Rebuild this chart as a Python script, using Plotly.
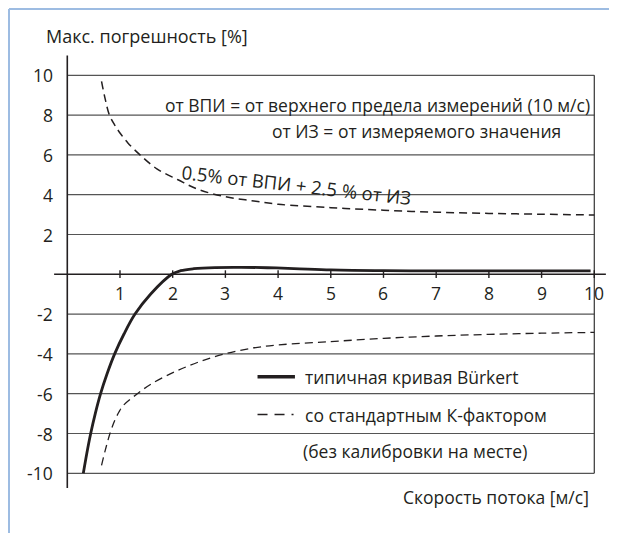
import plotly.graph_objects as go

# ---- data ----
burkert_x = [0.304, 0.370, 0.444, 0.531, 0.632, 0.755, 0.899, 1.076, 1.285, 1.579, 1.983,
             2.15, 2.4, 2.8, 3.3, 3.8, 4.3, 5.0, 6.0, 7.0, 8.0, 9.0, 9.93]
burkert_y = [-10.0, -9.0, -8.0, -7.0, -6.0, -5.0, -4.0, -3.0, -2.0, -1.0, 0.0,
             0.18, 0.28, 0.34, 0.35, 0.33, 0.29, 0.22, 0.18, 0.17, 0.17, 0.17, 0.17]

upper_x = [0.65, 0.72, 0.8, 0.9, 1.0, 1.15, 1.38, 1.7, 2.1, 2.5, 3.0, 3.5, 4.0, 5.0,
           6.0, 7.0, 8.0, 9.0, 10.0]
upper_y = [9.7, 8.8, 8.0, 7.5, 7.1, 6.6, 6.0, 5.3, 4.75, 4.25, 3.9, 3.7, 3.52, 3.35,
           3.22, 3.12, 3.06, 3.02, 2.98]

lower_x = [0.65, 0.72, 0.81, 0.9, 0.98, 1.06, 1.33, 1.6, 2.04, 2.5, 2.99, 3.53, 4.0, 5.0,
           6.0, 7.0, 8.0, 9.0, 10.0]
lower_y = [-9.6, -8.85, -8.0, -7.35, -6.92, -6.6, -6.0, -5.5, -4.9, -4.4, -4.0, -3.7, -3.55,
           -3.38, -3.22, -3.1, -3.02, -2.96, -2.92]

grid_vals = [10, 8, 6, 4, 2, -2, -4, -6, -8, -10]
ytick_vals = [10, 8, 6, 4, 2, -2, -4, -6, -8, -10]
ytick_text = ["10", "8", "6", "4", "2", "-2", "-4", "-6", "-8", "-10"]
xtick_vals = [1, 2, 3, 4, 5, 6, 7, 8, 9, 10]
xtick_text = ["1", "2", "3", "4", "5", "6", "7", "8", "9", "10"]

y_title = "Макс. погрешность [%]"
x_title = "Скорость потока [м/с]"
note1 = "от ВПИ = от верхнего предела измерений (10 м/с)"
note2 = "от ИЗ = от измеряемого значения"
curve_label = "0.5% от ВПИ + 2.5 % от ИЗ"
leg1 = "типичная кривая Bürkert"
leg2a = "со стандартным К-фактором"
leg2b = "(без калибровки на месте)"

FONT = "Open Sans"
FS = 17.5
TXT = "#231f20"
GRID = "#555555"

W, H = 609, 525  # page body adds an 8px margin

fig = go.Figure()

fig.add_trace(go.Scatter(x=upper_x, y=upper_y, mode="lines",
                         line=dict(color="#231f20", width=1.5, dash="8px,5px", shape="spline"),
                         hoverinfo="skip", showlegend=False))
fig.add_trace(go.Scatter(x=lower_x, y=lower_y, mode="lines",
                         line=dict(color="#231f20", width=1.3, dash="8px,5px", shape="spline"),
                         hoverinfo="skip", showlegend=False))
fig.add_trace(go.Scatter(x=burkert_x, y=burkert_y, mode="lines",
                         line=dict(color="#231f20", width=2.8, shape="spline"),
                         hoverinfo="skip", showlegend=False))

shapes = []
for g in grid_vals:
    shapes.append(dict(type="line", xref="x", yref="y", x0=0, x1=10, y0=g, y1=g,
                       line=dict(color=GRID, width=1.2), layer="below"))
shapes.append(dict(type="line", xref="x", yref="y", x0=10, x1=10, y0=-10, y1=10,
                   line=dict(color="#333", width=1.2), layer="below"))
shapes.append(dict(type="line", xref="x", yref="y", x0=-0.25, x1=10.22, y0=0, y1=0,
                   line=dict(color="#231f20", width=1.4)))
shapes.append(dict(type="line", xref="x", yref="y", x0=0, x1=0, y0=-10.74, y1=11.0,
                   line=dict(color="#231f20", width=1.6)))
for t in xtick_vals:
    shapes.append(dict(type="line", xref="x", yref="y", x0=t, x1=t, y0=-0.18, y1=0.2,
                       line=dict(color="#231f20", width=1.4)))
shapes.append(dict(type="line", xref="x", yref="y", x0=3.61, x1=4.32, y0=-5.15, y1=-5.15,
                   line=dict(color="#231f20", width=3.6)))
shapes.append(dict(type="line", xref="x", yref="y", x0=3.61, x1=4.293, y0=-7.05, y1=-7.05,
                   line=dict(color="#231f20", width=1.5, dash="10px,7px")))
bx = 1 / W
by = 1 - 1 / H
shapes.append(dict(type="line", xref="paper", yref="paper", x0=bx, x1=bx, y0=0, y1=by,
                   line=dict(color="#9dbce2", width=2)))
shapes.append(dict(type="line", xref="paper", yref="paper", x0=bx, x1=1, y0=by, y1=by,
                   line=dict(color="#9dbce2", width=2)))

ann = []
f = dict(family=FONT, size=FS, color=TXT)
for v, t in zip(ytick_vals, ytick_text):
    ann.append(dict(x=-0.233, y=v, xref="x", yref="y", text=t, showarrow=False,
                    xanchor="right", yanchor="middle", font=f))
for v, t in zip(xtick_vals, xtick_text):
    ann.append(dict(x=v, y=-0.95, xref="x", yref="y", text=t, showarrow=False,
                    xanchor="center", yanchor="middle", font=f))
ann.append(dict(x=-0.45, y=11.98, xref="x", yref="y", text=y_title, showarrow=False,
                xanchor="left", yanchor="middle", font=dict(family=FONT, size=18, color=TXT)))
ann.append(dict(x=9.94, y=-11.2, xref="x", yref="y", text=x_title, showarrow=False,
                xanchor="right", yanchor="middle", font=f))
ann.append(dict(x=9.95, y=8.5, xref="x", yref="y", text=note1, showarrow=False,
                xanchor="right", yanchor="middle", font=f))
ann.append(dict(x=9.4, y=7.2, xref="x", yref="y", text=note2, showarrow=False,
                xanchor="right", yanchor="middle", font=f))
ann.append(dict(x=4.34, y=4.49, xref="x", yref="y", text=curve_label, showarrow=False,
                xanchor="center", yanchor="middle", textangle=6.5,
                font=dict(family=FONT, size=18.5, color=TXT)))
ann.append(dict(x=4.47, y=-5.15, xref="x", yref="y", text=leg1, showarrow=False,
                xanchor="left", yanchor="middle", font=f))
ann.append(dict(x=4.47, y=-7.05, xref="x", yref="y", text=leg2a, showarrow=False,
                xanchor="left", yanchor="middle", font=f))
ann.append(dict(x=4.44, y=-8.9, xref="x", yref="y", text=leg2b, showarrow=False,
                xanchor="left", yanchor="middle", font=f))

fig.update_layout(
    width=W, height=H,
    margin=dict(l=0, r=0, t=0, b=0),
    paper_bgcolor="white", plot_bgcolor="white",
    xaxis=dict(range=[-1.125, 10.431], visible=False, fixedrange=True),
    yaxis=dict(range=[-13.0, 13.382], visible=False, fixedrange=True),
    shapes=shapes, annotations=ann, showlegend=False,
)

fig.write_html("out.html")
